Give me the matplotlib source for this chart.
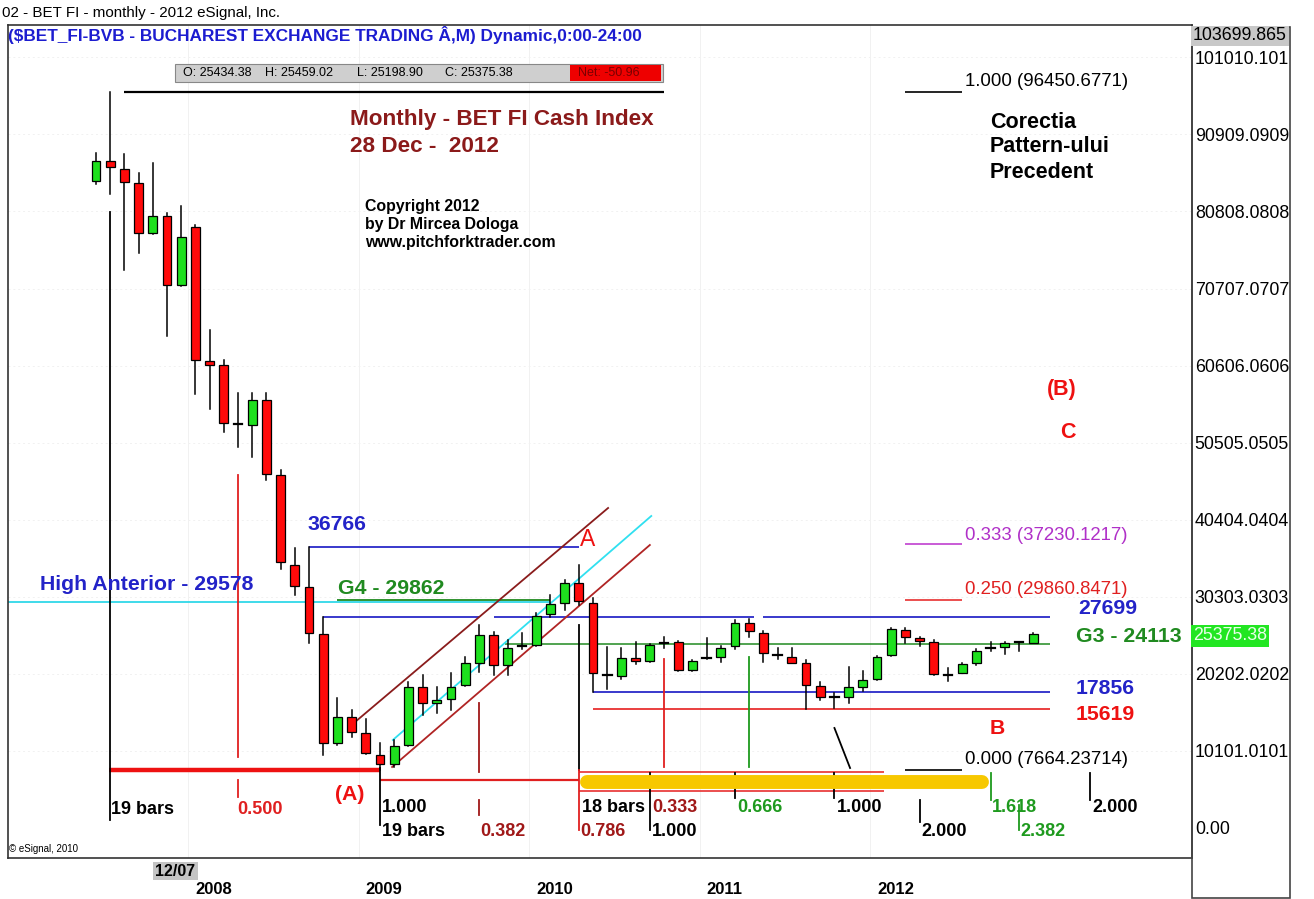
import matplotlib
matplotlib.use('Agg')
import matplotlib.pyplot as plt
from matplotlib.patches import Rectangle
from matplotlib.transforms import blended_transform_factory

plt.rcParams['font.family'] = ['Liberation Sans', 'DejaVu Sans']

# ---------------- data (month index 0 = Jun 2007 ... 66 = Dec 2012) ----------------
months = ['Jun07', 'Jul07', 'Aug07', 'Sep07', 'Oct07', 'Nov07', 'Dec07',
          'Jan08', 'Feb08', 'Mar08', 'Apr08', 'May08', 'Jun08', 'Jul08', 'Aug08', 'Sep08', 'Oct08', 'Nov08', 'Dec08',
          'Jan09', 'Feb09', 'Mar09', 'Apr09', 'May09', 'Jun09', 'Jul09', 'Aug09', 'Sep09', 'Oct09', 'Nov09', 'Dec09',
          'Jan10', 'Feb10', 'Mar10', 'Apr10', 'May10', 'Jun10', 'Jul10', 'Aug10', 'Sep10', 'Oct10', 'Nov10', 'Dec10',
          'Jan11', 'Feb11', 'Mar11', 'Apr11', 'May11', 'Jun11', 'Jul11', 'Aug11', 'Sep11', 'Oct11', 'Nov11', 'Dec11',
          'Jan12', 'Feb12', 'Mar12', 'Apr12', 'May12', 'Jun12', 'Jul12', 'Aug12', 'Sep12', 'Oct12', 'Nov12', 'Dec12']
opens = [84840, 87460, 86410, 84490, 77940, 80210, 71170,
         78810, 61170, 60640, 53000, 52820, 56090, 46240, 34470, 31550, 25430, 11100, 14590,
         12410, 9570, 8390, 10880, 18520, 16420, 16870, 18740, 21660, 25290, 21360, 23800,
         23980, 28010, 29530, 32070, 29450, 20100, 19960, 22320, 21890, 24250, 24340, 20710,
         22300, 22450, 23890, 26910, 25600, 22600, 22450, 21590, 18610, 17300, 17210, 18520,
         19490, 22670, 25950, 24940, 24340, 20000, 20350, 21590, 23500, 23760, 24300, 24300]
highs = [88500, 96450, 88300, 85810, 87200, 80560, 81560,
         79000, 65270, 61340, 57050, 57050, 57050, 46900, 36660, 36766, 27699, 17000, 15470,
         14250, 11100, 11530, 19170, 20050, 18520, 20270, 22450, 26610, 25730, 24640, 25600,
         28140, 30540, 32500, 34470, 30100, 23760, 23550, 24420, 24100, 24990, 24500, 22000,
         24860, 23800, 27260, 27400, 25800, 23550, 23550, 22020, 19170, 17730, 21060, 20600,
         22500, 26200, 26170, 25070, 24640, 20930, 21600, 23400, 24420, 24400, 24380, 25520]
lows = [84400, 83090, 73130, 75320, 77850, 64480, 71000,
        56880, 54920, 51940, 49970, 48660, 45610, 34000, 30540, 24210, 9570, 10900, 11970,
        9700, 7664, 8040, 10750, 14810, 15030, 15470, 18600, 20480, 20050, 20050, 23420,
        23850, 27610, 28570, 29230, 17856, 18180, 19490, 21450, 21800, 23550, 20600, 20600,
        22110, 21800, 23460, 25000, 21800, 22150, 21600, 15619, 16780, 15690, 16420, 17960,
        19400, 22600, 24210, 23850, 20050, 19310, 20250, 21400, 23240, 22800, 23240, 24250]
closes = [87460, 86590, 84670, 78020, 80210, 71170, 77500,
          61340, 60720, 53040, 52850, 56090, 46400, 34900, 31720, 25600, 11100, 14590, 12620,
          9790, 8390, 10750, 18520, 16340, 16780, 18520, 21590, 25290, 21360, 23550, 23950,
          27790, 29320, 32070, 29790, 20350, 20000, 22240, 21890, 23980, 24350, 20710, 21890,
          22200, 23630, 26910, 25860, 22890, 22700, 21670, 18740, 17210, 17150, 18440, 19400,
          22450, 26040, 25070, 24550, 20180, 20100, 21490, 23240, 23600, 24290, 24380, 25375]

y_ticks = [0, 10101.0101, 20202.0202, 30303.0303, 40404.0404, 50505.0505,
           60606.0606, 70707.0707, 80808.0808, 90909.0909, 101010.101]
y_tick_labels = ['0.00', '10101.0101', '20202.0202', '30303.0303', '40404.0404', '50505.0505',
                 '60606.0606', '70707.0707', '80808.0808', '90909.0909', '101010.101']
year_labels = ['2008', '2009', '2010', '2011', '2012']
year_month_idx = [7, 19, 31, 43, 55]

# horizontal levels: (value, start month, end month, colour, width)
h_levels = [
    (96450.68, 2, 40, 'black', 1.6),
    (7664.24, 0.9, 20, '#ee1111', 3.2),
    (6291, 20, 34, '#e02020', 1.6),
    (7378, 34, 55.5, '#e83030', 1.2),
    (4849, 34, 55.5, '#e83030', 1.2),
    (29578, -6.3, 32, '#30d8e8', 1.3),
    (29862, 17, 32, '#208a20', 1.3),
    (36766, 15, 34, '#2a2ac8', 1.3),
    (27699, 16, 27, '#2a2ac8', 1.3),
    (27699, 28, 46.3, '#2a2ac8', 1.3),
    (27699, 47, 67.2, '#2a2ac8', 1.3),
    (24113, 28.8, 67.2, '#208a20', 1.1),
    (17856, 35, 67.2, '#2a2ac8', 1.3),
    (15619, 35, 67.2, '#e83030', 1.3),
    (96450.68, 57, 61, 'black', 1.2),
    (37230.12, 57, 61, '#c040d0', 1.2),
    (29860.85, 57, 61, '#e83030', 1.2),
    (7664.24, 57, 61, 'black', 1.2),
]
# vertical time-cycle lines: (month, value from, value to, colour)
v_lines = [
    (1, 80734, 1048, 'black'),
    (10, 46265, 9305, '#e02020'), (10, 6291, 4063, '#e02020'),
    (20, 7864, 393, 'black'),
    (27, 16383, 7339, '#a01818'), (27, 3670, 1704, '#a01818'),
    (34, 26606, 7602, 'black'), (34, 7602, -262, '#e02020'),
    (39, 7208, -262, 'black'),
    (40, 22150, 7995, '#e02020'),
    (45, 7208, 3932, 'black'),
    (46, 22412, 7995, '#1e9a1e'),
    (52, 7208, 3932, 'black'),
    (58, 3670, 786, 'black'),
    (63, 7208, 3670, '#1e9a1e'),
    (65, 3014, -262, '#1e9a1e'),
    (70, 7208, 3670, 'black'),
]
# pitchfork channel lines: (m0, v0, m1, v1, colour)
channel = [
    (18.24, 13893, 36.06, 41940, '#8a1c1c'),
    (20.9, 11533, 39.1, 40891, '#30e0f0'),
    (20.85, 7995, 39.0, 37090, '#b02424'),
    (52.0, 13106, 53.1, 7864, 'black'),
]
highlight = (5990, 34.6, 62.4)

# ---------------- figure ----------------
W, H = 1314, 899
fig = plt.figure(figsize=(W / 100, H / 100), dpi=100)
L_PX, R_PX, T_PX, B_PX = 8, 1192, 25, 858
ax = fig.add_axes([L_PX / W, 1 - B_PX / H, (R_PX - L_PX) / W, (B_PX - T_PX) / H])
ax.set_xlim(-6.2, 77.18)
ax.set_ylim(-3932, 105242)
for s in ax.spines.values():
    s.set_color('#333333')
    s.set_linewidth(1.2)

# faint grid
for t in y_ticks[1:]:
    ax.axhline(t, color='#f1f1f1', lw=0.7, ls=(0, (2, 3)), zorder=0)
for m in year_month_idx:
    ax.axvline(m - 0.5, color='#f1f1f1', lw=0.7, zorder=0)

# levels
for v, m0, m1, c, lw in h_levels:
    ax.plot([m0, m1], [v, v], color=c, lw=lw, zorder=2, solid_capstyle='butt')
for m, v0, v1, c in v_lines:
    ax.plot([m, m], [v0, v1], color=c, lw=1.3, zorder=2)
for m0, v0, m1, v1, c in channel:
    ax.plot([m0, m1], [v0, v1], color=c, lw=1.3, zorder=2)
hv, hm0, hm1 = highlight
ax.plot([hm0, hm1], [hv, hv], color='#f7c800', lw=10, solid_capstyle='round', zorder=2.5)

# candles
bw = 0.62
for i in range(len(months)):
    o, h, l, c = opens[i], highs[i], lows[i], closes[i]
    ax.plot([i, i], [l, h], color='black', lw=1.1, zorder=3)
    if abs(c - o) < 200:
        ax.plot([i - bw / 2, i + bw / 2], [(o + c) / 2] * 2, color='black', lw=1.6, zorder=4)
    else:
        col = '#1ee01e' if c > o else '#ff0a0a'
        ax.add_patch(Rectangle((i - bw / 2, min(o, c)), bw, abs(c - o), facecolor=col,
                               edgecolor='black', lw=0.9, zorder=4))

# axes ticks
ax.set_xticks([])
ax.yaxis.tick_right()
ax.set_yticks(y_ticks)
ax.set_yticklabels(y_tick_labels)
ax.tick_params(axis='y', length=0, pad=2, labelsize=12.8, labelcolor='black')

# year labels
trans = blended_transform_factory(ax.transData, fig.transFigure)
for lab, m in zip(year_labels, year_month_idx):
    ax.text(m, 1 - 890 / H, lab, transform=trans, ha='left', va='center',
            fontsize=12, fontweight='bold', clip_on=False)


def ft(x, y, s, color='black', size=13, weight='normal', ha='left', **kw):
    return fig.text(x / W, 1 - y / H, s, color=color, fontsize=size, fontweight=weight,
                    ha=ha, va='center', **kw)


def frect(x0, y0, x1, y1, **kw):
    fig.add_artist(Rectangle((x0 / W, 1 - y1 / H), (x1 - x0) / W, (y1 - y0) / H,
                             transform=fig.transFigure, **kw))


# right price panel
frect(1192, 27, 1290, 898, fill=False, edgecolor='#444444', lw=1.2)
ft(1193, 36, '103699.865', size=12.8, bbox=dict(boxstyle='square,pad=0.1', facecolor='#c8c8c8', edgecolor='none'))
ft(1193, 636, '25375.38', color='#eaffea', size=12.8,
   bbox=dict(boxstyle='square,pad=0.12', facecolor='#22e622', edgecolor='none'))

# header
ft(2, 13, '02 - BET FI - monthly - 2012 eSignal, Inc.', size=10.9)
ft(8, 35, '($BET_FI-BVB - BUCHAREST EXCHANGE TRADING Â,M) Dynamic,0:00-24:00', color='#1c1cd0',
   size=12.4, weight='bold')
frect(175, 64, 663, 82, facecolor='#cfcfcf', edgecolor='#888888', lw=0.8)
frect(570, 65, 661, 81, facecolor='#ee0000', edgecolor='none')
for x, s in [(183, 'O: 25434.38'), (265, 'H: 25459.02'), (357, 'L: 25198.90'), (445, 'C: 25375.38')]:
    ft(x, 73, s, size=9)
ft(578, 73, 'Net: -50.96', color='#7a0000', size=9)

# titles & notes
ft(350, 120, 'Monthly - BET FI Cash Index', color='#8b1a1a', size=16.2, weight='bold')
ft(350, 147, '28 Dec -  2012', color='#8b1a1a', size=16.2, weight='bold')
ft(365, 207, 'Copyright 2012', size=11.4, weight='bold')
ft(365, 225, 'by Dr Mircea Dologa', size=11.4, weight='bold')
ft(365, 243, 'www.pitchforktrader.com', size=11.4, weight='bold')
ft(990, 122, 'Corectia', size=15.5, weight='bold')
ft(990, 147, 'Pattern-ului', size=15.5, weight='bold')
ft(990, 172, 'Precedent', size=15.5, weight='bold')
ft(965, 82, '1.000 (96450.6771)', size=13.4)
ft(1062, 389, '(B)', color='#ee1111', size=15.5, weight='bold', ha='center')
ft(1068, 432, 'C', color='#ee1111', size=15.5, weight='bold', ha='center')
ft(965, 535, '0.333 (37230.1217)', color='#b030c8', size=13.4)
ft(965, 590, '0.250 (29860.8471)', color='#e02020', size=13.4)
ft(965, 760, '0.000 (7664.23714)', size=13.4)

ft(308, 525, '36766', color='#2323c8', size=15.3, weight='bold')
ft(40, 585, 'High Anterior - 29578', color='#2323c8', size=15.3, weight='bold')
ft(338, 588, 'G4 - 29862', color='#208a20', size=15.3, weight='bold')
ft(580, 539, 'A', color='#ee1111', size=16.5)
ft(1078, 609, '27699', color='#2323c8', size=15.3, weight='bold')
ft(1076, 637, 'G3 - 24113', color='#208a20', size=15.3, weight='bold')
ft(1076, 688, '17856', color='#2323c8', size=15.3, weight='bold')
ft(1076, 714, '15619', color='#ee1111', size=15.3, weight='bold')
ft(990, 729, 'B', color='#ee1111', size=15.3, weight='bold')
ft(335, 795, '(A)', color='#ee1111', size=15.3, weight='bold')

cyc = [
    (111, 810, '19 bars', 'black'), (237, 810, '0.500', '#e02020'),
    (382, 808, '1.000', 'black'), (382, 832, '19 bars', 'black'),
    (480, 832, '0.382', '#a01818'), (582, 808, '18 bars', 'black'),
    (580, 832, '0.786', '#a01818'), (652, 808, '0.333', '#a01818'),
    (652, 832, '1.000', 'black'), (737, 808, '0.666', '#1e9a1e'),
    (837, 808, '1.000', 'black'), (921, 832, '2.000', 'black'),
    (992, 808, '1.618', '#1e9a1e'), (1020, 832, '2.382', '#1e9a1e'),
    (1092, 808, '2.000', 'black'),
]
for x, y, s, c in cyc:
    ft(x, y, s, color=c, size=13, weight='bold')

ft(9, 849, '© eSignal, 2010', size=7)
frect(153, 862, 198, 880, facecolor='#c4c4c4', edgecolor='none')
ft(175.5, 871, '12/07', size=11.5, weight='bold', ha='center')

fig.savefig('out.png', dpi=100)
